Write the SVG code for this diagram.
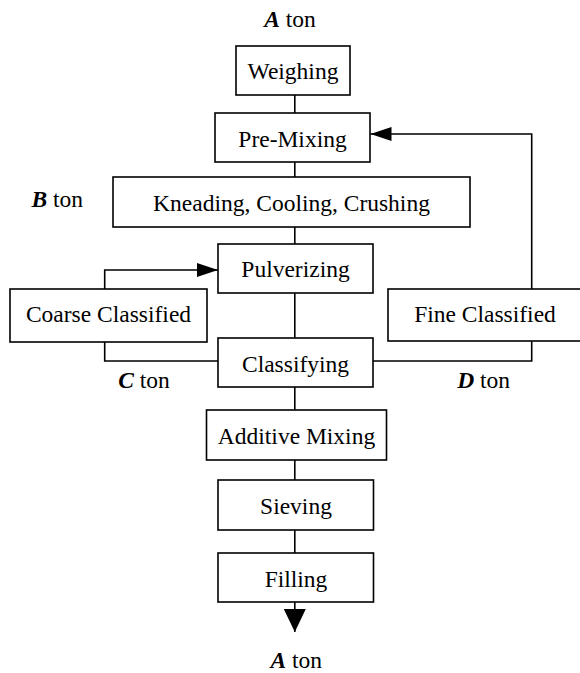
<svg xmlns="http://www.w3.org/2000/svg" width="580" height="673" viewBox="0 0 580 673">
<style>
.box{fill:#fff;stroke:#000;stroke-width:1.6}
.t{font-family:"Liberation Serif","Times New Roman",serif;font-size:23.5px;fill:#000;text-anchor:middle}
.v{font-weight:bold;font-style:italic}
.ln{fill:none;stroke:#000;stroke-width:1.6}
</style>
<defs>
<marker id="ah" markerUnits="userSpaceOnUse" markerWidth="22" markerHeight="14" refX="21" refY="7" orient="auto">
<path d="M0,0 L21,7 L0,14 Z" fill="#000"/>
</marker>
<marker id="ahd" markerUnits="userSpaceOnUse" markerWidth="24" markerHeight="24" refX="23" refY="11" orient="auto">
<path d="M0,0 L23,11 L0,22 Z" fill="#000"/>
</marker>
</defs>
<rect width="580" height="673" fill="#fff"/>
<g id="connectors">
<path class="ln" d="M294.8,95 V113"/>
<path class="ln" d="M294.8,162 V177"/>
<path class="ln" d="M294.8,227 V244"/>
<path class="ln" d="M294.8,293 V338"/>
<path class="ln" d="M294.8,387 V410"/>
<path class="ln" d="M294.8,460 V480"/>
<path class="ln" d="M294.8,530 V553"/>
<path class="ln" d="M294.8,602 V632" marker-end="url(#ahd)"/>
<path class="ln" d="M531.7,289 V134 H370.5" marker-end="url(#ah)"/>
<path class="ln" d="M104.7,289 V270 H218" marker-end="url(#ah)"/>
<path class="ln" d="M104.7,342 V361 H218"/>
<path class="ln" d="M373,361 H531.7 V341"/>
</g>
<g id="weighing"><rect class="box" x="236" y="46" width="114" height="49"/><text class="t" x="293" y="79">Weighing</text></g>
<g id="premixing"><rect class="box" x="215" y="113" width="155" height="49"/><text class="t" x="292.5" y="146.5">Pre-Mixing</text></g>
<g id="kneading"><rect class="box" x="113" y="177" width="357" height="50"/><text class="t" x="291.5" y="210.5">Kneading, Cooling, Crushing</text></g>
<g id="pulverizing"><rect class="box" x="218" y="244" width="155" height="49"/><text class="t" x="295.5" y="276.5">Pulverizing</text></g>
<g id="coarse"><rect class="box" x="10" y="289" width="197" height="53"/><text class="t" x="108.5" y="321.5">Coarse Classified</text></g>
<g id="fine"><rect class="box" x="388" y="289" width="200" height="52"/><text class="t" x="485" y="321.5">Fine Classified</text></g>
<g id="classifying"><rect class="box" x="218" y="338" width="155" height="49"/><text class="t" x="295.5" y="371.5">Classifying</text></g>
<g id="additive"><rect class="box" x="206.5" y="410" width="180" height="50"/><text class="t" x="296.5" y="443.5">Additive Mixing</text></g>
<g id="sieving"><rect class="box" x="218" y="480" width="155.5" height="50"/><text class="t" x="296" y="513.5">Sieving</text></g>
<g id="filling"><rect class="box" x="218" y="553" width="155.5" height="49"/><text class="t" x="296" y="586.5">Filling</text></g>
<g id="labels">
<text class="t" x="290" y="26.7"><tspan class="v">A</tspan> ton</text>
<text class="t" x="57.3" y="207.3"><tspan class="v">B</tspan> ton</text>
<text class="t" x="144" y="388.3"><tspan class="v">C</tspan> ton</text>
<text class="t" x="483.6" y="388"><tspan class="v">D</tspan> ton</text>
<text class="t" x="296.3" y="668"><tspan class="v">A</tspan> ton</text>
</g>
</svg>
